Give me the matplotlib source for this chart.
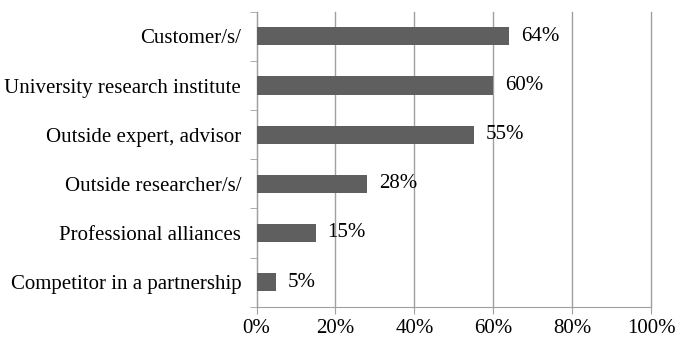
import matplotlib.pyplot as plt
import numpy as np

categories = ['Competitor in a partnership', 'Professional alliances', 'Outside researcher/s/',
              'Outside expert, advisor', 'University research institute', 'Customer/s/']
values = [5, 15, 28, 55, 60, 64]
xticks = [0, 20, 40, 60, 80, 100]

plt.rcParams['font.family'] = ['Liberation Serif', 'DejaVu Serif']

fig, ax = plt.subplots(figsize=(6.75, 3.37), dpi=100)
fig.subplots_adjust(left=0.38, right=0.965, top=0.965, bottom=0.09)

y = np.arange(len(categories))
ax.barh(y, values, height=0.37, color='#5f5f5f', zorder=3)

for yi, v in zip(y, values):
    ax.text(v + 3.0, yi, f'{v}%', va='center', ha='left', fontsize=15, color='black')

ax.set_xlim(0, 100)
ax.set_ylim(-0.5, len(categories) - 0.5)
ax.set_xticks(xticks)
ax.set_xticklabels([f'{t}%' for t in xticks], fontsize=15)
ax.set_yticks(y)
ax.set_yticklabels(categories, fontsize=15)
ax.set_yticks(np.arange(-0.5, len(categories), 1), minor=True)

ax.grid(axis='x', color='#a0a0a0', linewidth=1.0, zorder=0)
for gl in ax.get_xgridlines():
    gl.set_clip_on(False)
ax.tick_params(axis='y', which='major', length=0, pad=11)
ax.tick_params(axis='y', which='minor', length=5, color='#a0a0a0')
ax.tick_params(axis='x', length=5, color='#a0a0a0', pad=4)

for s in ['top', 'right']:
    ax.spines[s].set_visible(False)
for s in ['left', 'bottom']:
    ax.spines[s].set_color('#a0a0a0')

fig.savefig('out.png', dpi=100)
